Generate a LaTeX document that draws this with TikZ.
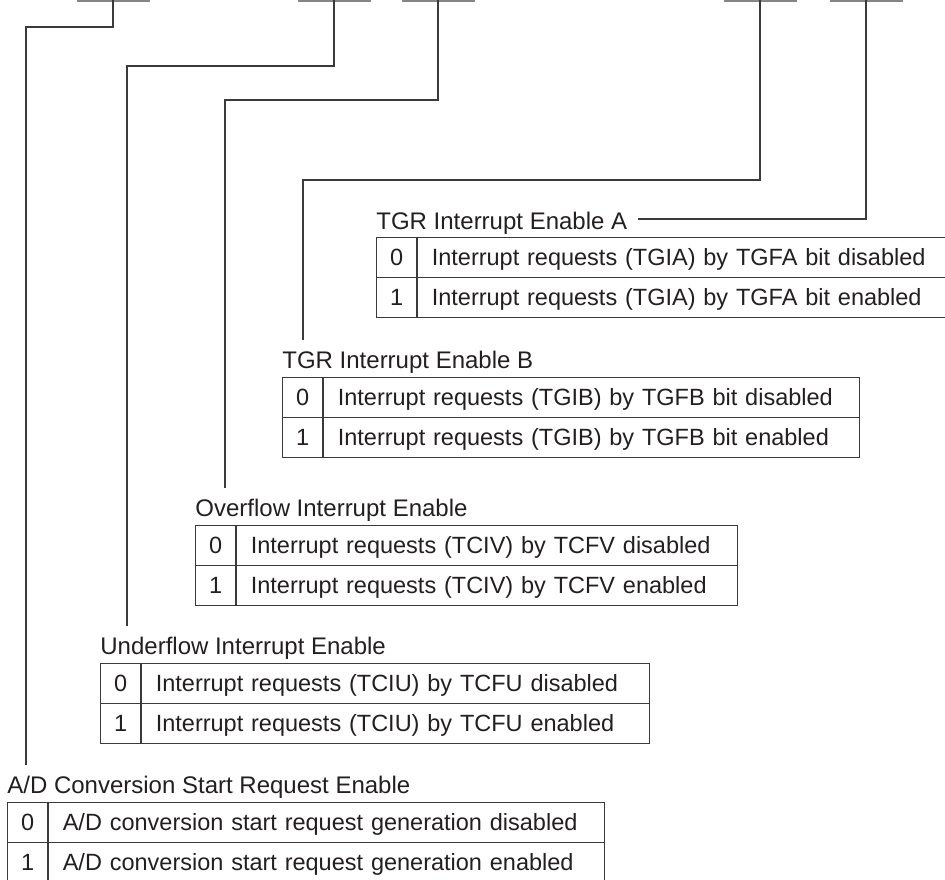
\documentclass[tikz,border=0pt]{standalone}
\usepackage{fontspec}
\setmainfont{Liberation Sans}
\usetikzlibrary{calc}
\definecolor{tiink}{HTML}{231F20}
\definecolor{tirule}{HTML}{3A3A3A}
\definecolor{tibargray}{HTML}{858585}
\tikzset{
  tifont/.style={font=\fontsize{12pt}{14pt}\selectfont, text=tiink},
  ticellfont/.style={font=\fontsize{11.75pt}{14pt}\selectfont, text=tiink},
  tibit/.style={
    ticellfont, draw=tirule, line width=0.6pt, anchor=north west,
    minimum width=20pt, minimum height=20pt, inner sep=0pt,
    text height=9pt, text depth=1pt},
  tidesc/.style={
    ticellfont, draw=tirule, line width=0.6pt, anchor=north west,
    minimum height=20pt, inner xsep=7pt, inner ysep=0pt, align=left,
    text height=9pt, text depth=1pt},
  tilabel/.style={
    tifont, anchor=base west, inner xsep=0pt, inner ysep=5pt,
    text height=9pt, text depth=1pt},
  tiwire/.style={draw=tirule, line width=0.55pt},
  tibitbar/.style={draw=tibargray, line width=1.5pt},
}

\begin{document}
\begin{tikzpicture}[x=0.5pt, y=-0.5pt]
\useasboundingbox (0, 0) rectangle (945, 879);

% Register bits, cut at the top edge.
\foreach \n/\x in {1/113, 2/334, 3/438, 4/760, 5/866} {
  \draw[tibitbar] (\x - 36.5, 0) -- (\x + 36.5, 0);
  \coordinate (stem\n) at (\x, 0);
}

% Field names.
\node[tilabel] (lblA) at (376, 229) {TGR Interrupt Enable A};
\node[tilabel] (lblB) at (282, 368) {TGR Interrupt Enable B};
\node[tilabel] (lblO) at (195, 516) {Overflow Interrupt Enable};
\node[tilabel] (lblU) at (100, 654) {Underflow Interrupt Enable};
\node[tilabel] (lblAD) at (7, 793) {A/D Conversion Start Request Enable};

% Value tables: bit value, then its meaning.
\foreach \r/\txt in {0/Interrupt requests (TGIA) by TGFA bit disabled,
                     1/Interrupt requests (TGIA) by TGFA bit enabled} {
  \node[tibit] (abit\r) at (376, 237 + \r * 40) {\r};
  \node[tidesc, text width=252pt] (adesc\r) at (abit\r.north east)
    {\mbox{\txt}};
}
\foreach \r/\txt in {0/Interrupt requests (TGIB) by TGFB bit disabled,
                     1/Interrupt requests (TGIB) by TGFB bit enabled} {
  \node[tibit] (bbit\r) at (282, 377 + \r * 40) {\r};
  \node[tidesc, text width=254pt] (bdesc\r) at (bbit\r.north east)
    {\mbox{\txt}};
}
\foreach \r/\txt in {0/Interrupt requests (TCIV) by TCFV disabled,
                     1/Interrupt requests (TCIV) by TCFV enabled} {
  \node[tibit] (obit\r) at (195, 525 + \r * 40) {\r};
  \node[tidesc, text width=236.5pt] (odesc\r) at (obit\r.north east)
    {\mbox{\txt}};
}
\foreach \r/\txt in {0/Interrupt requests (TCIU) by TCFU disabled,
                     1/Interrupt requests (TCIU) by TCFU enabled} {
  \node[tibit] (ubit\r) at (100, 663 + \r * 40) {\r};
  \node[tidesc, text width=240pt] (udesc\r) at (ubit\r.north east)
    {\mbox{\txt}};
}
\foreach \r/\txt in {0/{A/D conversion start request generation disabled},
                     1/{A/D conversion start request generation enabled}} {
  \node[tibit] (adbit\r) at (7, 802 + \r * 40) {\r};
  \node[tidesc, text width=264pt] (addesc\r) at (adbit\r.north east)
    {\mbox{\txt}};
}

% Leader lines from each bit to its field name.
\coordinate (k1) at (26, 27);
\coordinate (k2) at (127, 66);
\coordinate (k3) at (225, 100);
\coordinate (k4) at (303, 180);
\coordinate (k5) at (866, 219);
\draw[tiwire] (stem1) |- (k1) -- (k1 |- lblAD.north);
\draw[tiwire] (stem2) |- (k2) -- (k2 |- lblU.north);
\draw[tiwire] (stem3) |- (k3) -- (k3 |- lblO.north);
\draw[tiwire] (stem4) |- (k4) -- (k4 |- lblB.north);
\draw[tiwire] (stem5) -- (k5) -- ($(k5 -| lblA.east) + (10, 0)$);

\end{tikzpicture}
\end{document}
